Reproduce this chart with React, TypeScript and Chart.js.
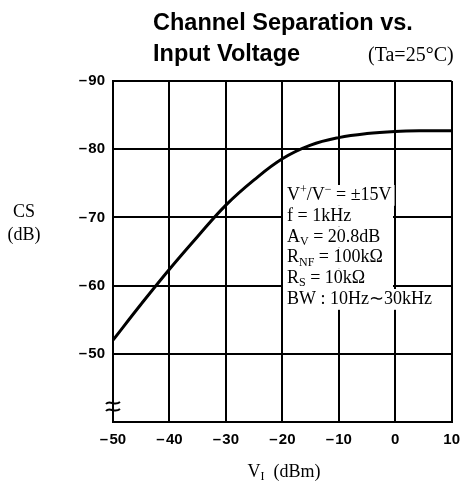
import React, { useEffect, useRef } from 'react';
import { Chart, registerables } from 'chart.js';

Chart.register(...registerables);

// ---- data ----
const inputDbm = [-50, -45, -40, -35, -30, -25, -20, -15, -10, -5, 0, 5, 10];
const csDb = [-52, -57.3, -62.4, -67.2, -71.8, -75.5, -78.6, -80.6, -81.7, -82.3, -82.6, -82.7, -82.7];
const xTickValues = [-50, -40, -30, -20, -10, 0, 10];
const yTickValues = [-90, -80, -70, -60, -50];

const titleLine1 = 'Channel Separation vs.';
const titleLine2 = 'Input Voltage';
const tempNote = '(Ta=25°C)';
const yAxisName = 'CS';
const yAxisUnit = '(dB)';

type Seg = [string, '' | 'sub' | 'sup'];
const xAxisTitle: Seg[] = [['V', ''], ['I', 'sub'], ['  (dBm)', '']];
const conditionLines: Seg[][] = [
  [['V', ''], ['+', 'sup'], ['/V', ''], ['\u2212', 'sup'], [' = ±15V', '']],
  [['f = 1kHz', '']],
  [['A', ''], ['V', 'sub'], [' = 20.8dB', '']],
  [['R', ''], ['NF', 'sub'], [' = 100kΩ', '']],
  [['R', ''], ['S', 'sub'], [' = 10kΩ', '']],
  [['BW : 10Hz\u223C30kHz', '']],
];

const fmt = (v: number) => (v < 0 ? '\u2013\u200A' + Math.abs(v) : String(v));

const SERIF = '"Liberation Serif", "Times New Roman", serif';
const SANS = '"Liberation Sans", Arial, sans-serif';

function segFont(mode: string, size: number) {
  return mode === '' ? `${size}px ${SERIF}` : `${Math.round(size * 0.65)}px ${SERIF}`;
}

function measureSegs(ctx: CanvasRenderingContext2D, segs: Seg[], size: number) {
  let w = 0;
  for (const [t, m] of segs) {
    ctx.font = segFont(m, size);
    w += ctx.measureText(t).width;
  }
  return w;
}

function drawSegs(ctx: CanvasRenderingContext2D, segs: Seg[], x: number, y: number, size: number) {
  let cx = x;
  for (const [t, m] of segs) {
    ctx.font = segFont(m, size);
    const dy = m === 'sub' ? size * 0.18 : m === 'sup' ? -size * 0.4 : 0;
    ctx.fillText(t, cx, y + dy);
    cx += ctx.measureText(t).width;
  }
}

const decorPlugin = {
  id: 'decor',
  afterDraw(chart: any) {
    const ctx: CanvasRenderingContext2D = chart.ctx;
    const area = chart.chartArea;
    ctx.save();
    ctx.fillStyle = '#000';
    ctx.textBaseline = 'alphabetic';
    ctx.textAlign = 'left';

    // Title
    ctx.font = `bold 23.5px ${SANS}`;
    ctx.fillText(titleLine1, 153, 30);
    ctx.fillText(titleLine2, 153, 61);
    ctx.font = `20px ${SERIF}`;
    ctx.fillText(tempNote, 368, 61);

    // Y axis name
    ctx.textAlign = 'center';
    ctx.font = `18px ${SERIF}`;
    ctx.fillText(yAxisName, 24, 217);
    ctx.fillText(yAxisUnit, 24, 240);
    ctx.textAlign = 'left';

    // X axis title
    const xw = measureSegs(ctx, xAxisTitle, 18);
    const xc = 284;
    drawSegs(ctx, xAxisTitle, xc - xw / 2, 477, 18);

    // Conditions block
    const bx = 287;
    const by0 = 200;
    const lh = 20.8;
    const fs = 18;
    conditionLines.forEach((segs, i) => {
      const y = by0 + i * lh;
      const w = Math.max(measureSegs(ctx, segs, fs), 103);
      ctx.fillStyle = '#fff';
      ctx.fillRect(bx - 4, y - 15, w + 7, lh);
    });
    ctx.fillStyle = '#000';
    conditionLines.forEach((segs, i) => {
      drawSegs(ctx, segs, bx, by0 + i * lh, fs);
    });

    // Axis break symbol
    ctx.strokeStyle = '#000';
    ctx.lineWidth = 2;
    const x0 = area.left;
    [403, 410].forEach((yc) => {
      ctx.beginPath();
      ctx.moveTo(x0 - 7, yc + 1);
      ctx.bezierCurveTo(x0 - 3, yc - 4, x0 + 1, yc + 4, x0 + 7, yc - 1);
      ctx.stroke();
    });
    ctx.restore();
  },
};

export default function App() {
  const ref = useRef<HTMLCanvasElement | null>(null);
  useEffect(() => {
    if (!ref.current) return;
    const chart = new Chart(ref.current, {
      type: 'line',
      data: {
        datasets: [
          {
            data: inputDbm.map((x, i) => ({ x, y: csDb[i] })),
            borderColor: '#000',
            borderWidth: 3,
            pointRadius: 0,
            tension: 0.4,
            fill: false,
          },
        ],
      },
      options: {
        responsive: false,
        animation: false,
        events: [],
        layout: { padding: { top: 81, right: 12, left: 0, bottom: 0 } },
        plugins: { legend: { display: false }, tooltip: { enabled: false }, title: { display: false } },
        scales: {
          x: {
            type: 'linear',
            min: -50,
            max: 10,
            afterBuildTicks: (s: any) => {
              s.ticks = xTickValues.map((v) => ({ value: v }));
            },
            afterFit: (s: any) => {
              s.height = 61;
            },
            grid: { color: '#000', lineWidth: 2, drawTicks: false },
            border: { color: '#000', width: 2 },
            ticks: {
              padding: 9,
              color: '#000',
              font: { family: SANS, size: 15, weight: 'bold' },
              maxRotation: 0,
              callback: (v: any) => fmt(Number(v)),
            },
          },
          y: {
            type: 'linear',
            reverse: true,
            min: -90,
            max: -40,
            afterBuildTicks: (s: any) => {
              s.ticks = yTickValues.map((v) => ({ value: v }));
            },
            afterFit: (s: any) => {
              s.width = 113;
            },
            grid: { color: '#000', lineWidth: 2, drawTicks: false },
            border: { color: '#000', width: 2 },
            ticks: {
              padding: 8,
              color: '#000',
              font: { family: SANS, size: 15, weight: 'bold' },
              callback: (v: any) => fmt(Number(v)),
            },
          },
        },
      } as any,
      plugins: [decorPlugin],
    });
    return () => chart.destroy();
  }, []);
  return (
    <div style={{ position: 'absolute', left: 0, top: 0, width: 469, height: 483, background: '#fff' }}>
      <canvas ref={ref} width={469} height={483} style={{ display: 'block', width: 469, height: 483 }} />
    </div>
  );
}
